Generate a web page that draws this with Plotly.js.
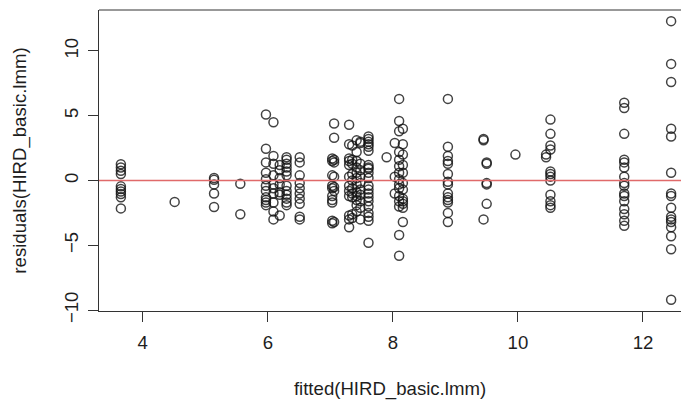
<!DOCTYPE html>
<html>
<head>
<meta charset="utf-8">
<script src="https://cdn.plot.ly/plotly-3.0.1.min.js"></script>
<style>
html,body{margin:0;padding:0;background:#ffffff;}
#chart{width:681px;height:405px;}
</style>
</head>
<body>
<div id="chart"></div>
<script>
// Fitted value of each vertical group of points
const fittedByGroup = [3.65, 4.51, 5.14, 5.56, 5.97, 6.09, 6.19, 6.30, 6.51,
  7.03, 7.06, 7.30, 7.35, 7.42, 7.48, 7.61, 7.90, 8.03, 8.10, 8.16,
  8.88, 9.45, 9.50, 9.96, 10.45, 10.52, 11.70, 12.45];

// Residuals for each group (same order as fittedByGroup)
const residualsByGroup = [
  [1.25, 1.0, 0.75, 0.5, -0.45, -0.65, -0.85, -1.05, -1.3, -2.15],
  [-1.65],
  [0.2, 0.05, -0.3, -1.0, -2.05],
  [-0.25, -2.6],
  [5.1, 2.45, 1.4, 0.6, 0.1, -0.4, -0.8, -1.3, -1.5, -1.7, -1.9],
  [4.5, 1.9, 1.3, 0.4, -0.3, -0.6, -1.0, -1.7, -2.4, -3.0],
  [1.2, 0.8, 0.2, -0.3, -0.9, -1.1, -2.7],
  [1.8, 1.6, 1.3, 1.0, 0.7, 0.4, -0.4, -0.8, -1.1, -1.4, -1.7, -1.9],
  [1.8, 1.4, 0.4, -0.2, -0.6, -1.0, -1.4, -1.8, -2.8, -3.0],
  [1.7, 1.5, 0.4, -0.4, -0.6, -1.2, -1.5, -1.7, -3.1, -3.3],
  [4.4, 3.3, 1.6, 1.4, 0.3, -0.5, -0.8, -3.2],
  [4.3, 2.8, 1.7, 1.5, 1.2, 0.3, -0.4, -0.8, -1.2, -2.7, -3.0, -3.6],
  [2.7, 1.6, 1.3, 0.5, 0.0, -0.6, -1.0, -1.3, -2.6, -2.9],
  [3.1, 2.2, 1.5, 1.0, 0.6, 0.2, -0.3, -0.9, -1.2, -1.5, -1.9, -2.4],
  [3.0, 2.9, 1.3, 0.8, 0.3, -0.2, -0.7, -1.1, -1.6, -2.1, -3.0],
  [3.4, 3.2, 3.0, 2.8, 2.6, 2.3, 1.2, 1.0, 0.9, 0.6, 0.2, -0.4, -0.7, -1.0, -1.3, -1.6, -2.0, -2.5, -2.8, -3.1, -4.8],
  [1.8],
  [2.9, 0.3, -1.0],
  [6.3, 4.6, 3.8, 2.2, 1.6, 1.1, 0.6, 0.1, -0.3, -0.6, -1.2, -1.6, -2.0, -4.2, -5.8],
  [4.0, 2.8, 2.0, 1.2, 0.6, -0.2, -0.7, -1.4, -1.6, -1.8, -2.1, -3.2],
  [6.3, 2.6, 1.9, 1.5, 1.3, 0.5, -0.1, -0.3, -1.0, -1.3, -1.5, -1.7, -2.5, -3.2],
  [3.2, 3.1, -3.0],
  [1.4, 1.3, -0.2, -0.3, -1.8],
  [2.0],
  [2.0, 1.8],
  [4.7, 3.6, 2.7, 2.4, 0.7, 0.5, 0.3, 0.0, -1.1, -1.6, -1.9, -2.1],
  [6.0, 5.6, 3.6, 1.6, 1.4, 1.0, 0.3, -0.2, -0.4, -1.0, -1.2, -1.6, -2.2, -2.6, -3.1, -3.5],
  [12.3, 9.0, 7.6, 4.0, 3.4, 0.6, -1.0, -1.2, -2.1, -2.8, -3.0, -3.2, -3.6, -4.3, -5.3, -9.2]
];

const xTickVals = [4, 6, 8, 10, 12];
const yTickVals = [-10, -5, 0, 5, 10];
const xTitle = 'fitted(HIRD_basic.lmm)';
const yTitle = 'residuals(HIRD_basic.lmm)';

const xs = [], ys = [];
fittedByGroup.forEach((f, i) => {
  residualsByGroup[i].forEach(r => { xs.push(f); ys.push(r); });
});

const axisColor = '#333333';
const textColor = '#1e1e1e';

const trace = {
  type: 'scatter', mode: 'markers', x: xs, y: ys,
  marker: { symbol: 'circle-open', size: 9, color: 'rgba(20,20,20,0.8)',
            line: { width: 1.5, color: 'rgba(20,20,20,0.8)' } },
  hoverinfo: 'x+y', cliponaxis: false
};

const layout = {
  width: 681, height: 405,
  margin: { l: 99, r: 0, t: 10, b: 94, pad: 0 },
  paper_bgcolor: '#ffffff', plot_bgcolor: '#ffffff',
  showlegend: false,
  font: { family: '"Liberation Sans", Arial, Helvetica, sans-serif', size: 18.6, color: textColor },
  xaxis: {
    range: [3.30, 12.608], tickvals: xTickVals, ticks: 'outside', ticklen: 10,
    tickwidth: 1, tickcolor: axisColor, showline: true, linecolor: axisColor, linewidth: 1,
    showgrid: false, zeroline: false, automargin: false, ticklabelstandoff: 5,
    title: { text: xTitle, standoff: 29, font: { size: 18.6, color: textColor } }
  },
  yaxis: {
    range: [-10.07, 13.16], tickvals: yTickVals, tickangle: -90, ticks: 'outside', ticklen: 10,
    tickwidth: 1, tickcolor: axisColor, showline: true, linecolor: axisColor, linewidth: 1,
    showgrid: false, zeroline: false, automargin: false, ticklabelstandoff: 3,
    title: { text: yTitle, standoff: 29, font: { size: 18.6, color: textColor } }
  },
  shapes: [
    { type: 'line', xref: 'paper', yref: 'paper', x0: 0, x1: 1, y0: 1, y1: 1,
      line: { color: axisColor, width: 1 } },
    { type: 'line', xref: 'paper', yref: 'y', x0: 0, x1: 1, y0: 0, y1: 0,
      line: { color: '#e06a6a', width: 1.5 } }
  ]
};

Plotly.newPlot('chart', [trace], layout, { displayModeBar: false, staticPlot: true });
</script>
</body>
</html>
